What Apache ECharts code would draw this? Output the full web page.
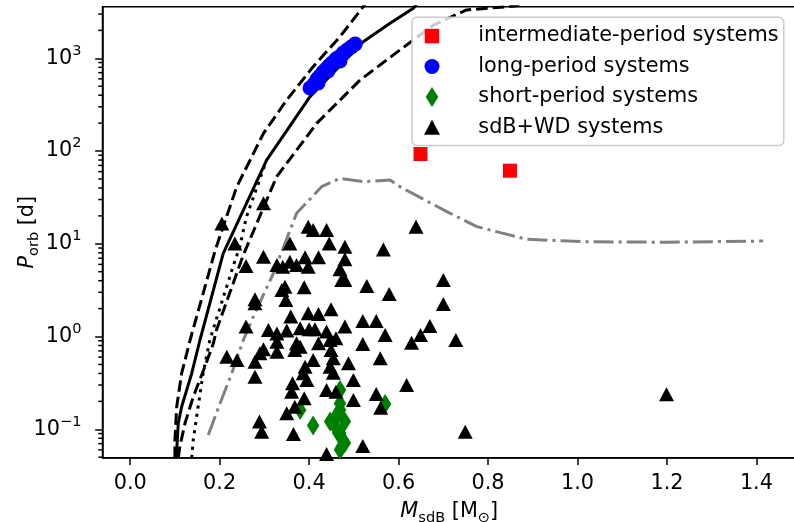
<!DOCTYPE html>
<html><head><meta charset="utf-8">
<script src="https://cdn.jsdelivr.net/npm/echarts@6/dist/echarts.min.js"></script>
<style>html,body{margin:0;padding:0;background:#fff}#c{width:794px;height:522px}</style>
</head><body><div id="c"></div>
<script>
// ---- axis ticks ----
const xTicks = [0.0, 0.2, 0.4, 0.6, 0.8, 1.0, 1.2, 1.4];
const yTicks = [0.1, 1, 10, 100, 1000];
const yMinorTicks = [0.05,0.06,0.07,0.08,0.09, 0.2,0.3,0.4,0.5,0.6,0.7,0.8,0.9,
  2,3,4,5,6,7,8,9, 20,30,40,50,60,70,80,90, 200,300,400,500,600,700,800,900, 2000,3000];

// ---- series data [M_sdB, P_orb] ----
const intermediatePeriod = [[0.649,92.9],[0.849,61.4]];
const longPeriod = [[0.402,479],[0.411,529],[0.418,598],[0.420,542],[0.424,644],[0.431,711],[0.438,767],[0.442,729],
  [0.444,826],[0.451,889],[0.460,983],[0.467,1033],[0.469,935],[0.476,1140],[0.485,1228],[0.494,1324],[0.503,1426]];
const shortPeriod = [[0.469,0.265],[0.380,0.161],[0.409,0.110],[0.570,0.187],[0.447,0.121],[0.469,0.161],[0.480,0.121],
  [0.465,0.091],[0.475,0.077],[0.473,0.065],[0.480,0.071],[0.454,0.116],[0.469,0.091],[0.462,0.143],[0.469,0.19],[0.469,0.060]];
const sdbWd = [[0.205,16.6],[0.234,10.1],[0.298,27.3],[0.259,5.76],[0.298,7.26],[0.398,15.3],[0.409,14.1],[0.439,14.1],
  [0.357,10.1],[0.445,10.1],[0.480,9.3],[0.566,8.7],[0.639,15.3],[0.328,5.9],[0.341,5.66],[0.357,6.41],[0.372,5.9],
  [0.391,7.15],[0.398,5.66],[0.421,7.15],[0.480,6.8],[0.469,5.31],[0.473,4.07],[0.480,4.07],[0.346,3.45],[0.339,3.17],
  [0.389,3.4],[0.348,2.48],[0.529,3.51],[0.579,2.88],[0.279,2.52],[0.279,2.28],[0.700,4.07],[0.700,2.24],[0.359,1.64],
  [0.398,1.78],[0.421,1.75],[0.449,1.97],[0.259,1.28],[0.309,1.18],[0.328,1.08],[0.350,1.16],[0.380,1.23],[0.400,1.20],
  [0.413,1.20],[0.439,1.13],[0.480,1.28],[0.520,1.47],[0.550,1.47],[0.570,1.04],[0.670,1.30],[0.649,1.04],[0.629,0.859],
  [0.328,0.88],[0.372,0.846],[0.380,0.777],[0.421,0.846],[0.447,0.918],[0.460,0.957],[0.520,0.831],[0.298,0.728],
  [0.290,0.659],[0.328,0.687],[0.368,0.716],[0.449,0.716],[0.216,0.607],[0.239,0.558],[0.279,0.535],[0.409,0.558],
  [0.454,0.582],[0.559,0.582],[0.488,0.514],[0.391,0.473],[0.447,0.473],[0.279,0.369],[0.387,0.402],[0.454,0.407],
  [0.395,0.34],[0.363,0.313],[0.499,0.34],[0.618,0.30],[0.361,0.254],[0.389,0.216],[0.439,0.265],[0.460,0.254],
  [0.499,0.207],[0.550,0.24],[0.350,0.149],[0.368,0.175],[0.560,0.171],[0.289,0.121],[0.294,0.094],[0.365,0.089],
  [0.520,0.066],[0.439,0.054],[0.728,0.918],[1.199,0.238],[0.749,0.094]];

// ---- model curves ----
const curveSolid = [[0.103,0.049],[0.1075,0.116],[0.115,0.175],[0.1375,0.40],[0.156,0.918],[0.208,7.9],[0.305,80],
  [0.402,386],[0.521,1510],[0.581,2385],[0.633,3460],[0.645,4100]];
const curveUpperDashed = [[0.100,0.049],[0.100,0.076],[0.104,0.175],[0.115,0.40],[0.134,0.918],[0.190,8.5],[0.238,41],
  [0.298,155],[0.350,355],[0.409,811],[0.469,1710],[0.521,3600],[0.53,4200]];
const curveDotted = [[0.1375,0.049],[0.141,0.077],[0.152,0.177],[0.163,0.40],[0.178,0.918],[0.230,5.7],[0.245,9.3],
  [0.260,19.6],[0.305,80]];
const curveLowerDashed = [[0.1075,0.049],[0.111,0.065],[0.1225,0.116],[0.141,0.224],[0.167,0.473],[0.186,0.845],
  [0.193,1.18],[0.253,7.6],[0.3275,53],[0.417,199],[0.514,583],[0.603,1228],[0.633,1574],[0.678,2284],[0.752,3320],
  [0.842,3600],[0.87,3700]];
const curveDashDot = [[0.1746,0.087],[0.2008,0.19],[0.227,0.40],[0.253,0.918],[0.272,1.51],[0.320,4.8],[0.372,21.3],
  [0.428,41.3],[0.469,50.8],[0.521,46.8],[0.581,48.7],[0.603,41.3],[0.708,22.2],[0.775,15.3],[0.886,11.2],[1.021,10.5],
  [1.199,10.4],[1.415,10.7]];

const X_MIN = -0.0619, X_MAX = 1.4885, Y_MIN = 0.0494, Y_MAX = 3600;
const F = 'DejaVu Sans', FS = 20.8, FSS = 14.6;

function supLabel(v){
  const e = Math.round(Math.log10(v));
  const s = e < 0 ? '\u2212' + (-e) : String(e);
  return '{b|10}{s|' + s + '}';
}
function lineSeries(data, color, type){
  return {type:'line', data:data, showSymbol:false, symbol:'none', clip:true, z:1,
    lineStyle:{color:color, width:3, type:type}, emphasis:{disabled:true}, silent:true};
}

const chart = echarts.init(document.getElementById('c'), null, {renderer:'canvas'});
chart.setOption({
  animation:false,
  backgroundColor:'#fff',
  textStyle:{fontFamily:F},
  grid:{left:102.5, top:6.7, right:-2, bottom:64.3, show:true, borderColor:'#000', borderWidth:1.5,
        backgroundColor:'transparent', containLabel:false, outerBoundsMode:'none'},
  legend:{z:10, orient:'vertical', left:412, top:17.3, padding:[8.3, 5.3, 7.7, 10],
    itemWidth:39.4, itemHeight:20, itemGap:9.4, symbolKeepAspect:true, selectedMode:false,
    backgroundColor:'rgba(255,255,255,0.8)', borderColor:'#cccccc', borderWidth:1.5, borderRadius:5,
    textStyle:{fontFamily:F, fontSize:FS, color:'#000', lineHeight:20, padding:[0,0,0,21.6]},
    data:[{name:'intermediate-period systems', icon:'path://M0,0M20,20M2.75,2.75L17.25,2.75L17.25,17.25L2.75,17.25Z'},
          {name:'long-period systems', icon:'path://M0,0M20,20M2.5,10A7.5,7.5,0,1,0,17.5,10A7.5,7.5,0,1,0,2.5,10Z'},
          {name:'short-period systems', icon:'path://M0,0M20,20M10,0L16.3,10L10,20L3.7,10Z'},
          {name:'sdB+WD systems', icon:'path://M0,0M20,20M10,2.5L18,17.5L2,17.5Z'}]},
  xAxis:{type:'value', min:X_MIN, max:X_MAX,
    name:'{i|M}{sub|sdB}{n| [M}{sub|\u2299}{n|]}', nameLocation:'middle', nameGap:40, nameMoveOverlap:false,
    nameTextStyle:{rich:{
      i:{fontFamily:F, fontStyle:'italic', fontSize:FS, lineHeight:28, color:'#000'},
      n:{fontFamily:F, fontSize:FS, lineHeight:28, color:'#000'},
      sub:{fontFamily:F, fontSize:FSS, lineHeight:FSS, verticalAlign:'bottom', color:'#000'}}},
    axisLine:{show:true, onZero:false, lineStyle:{color:'#000', width:1.5}},
    axisTick:{show:true, length:7.3, lineStyle:{color:'#000', width:1.5}, customValues:xTicks},
    axisLabel:{customValues:xTicks, formatter:v=>Number(v).toFixed(1), fontFamily:F, fontSize:FS, color:'#000', margin:15},
    splitLine:{show:false}},
  yAxis:{type:'log', logBase:10, min:Y_MIN, max:Y_MAX,
    name:'{i|P}{sub|orb}{n| [d]}', nameLocation:'middle', nameGap:61, nameRotate:90, nameMoveOverlap:false,
    nameTextStyle:{rich:{
      i:{fontFamily:F, fontStyle:'italic', fontSize:FS, lineHeight:28, color:'#000'},
      n:{fontFamily:F, fontSize:FS, lineHeight:28, color:'#000'},
      sub:{fontFamily:F, fontSize:FSS, lineHeight:FSS, verticalAlign:'bottom', color:'#000'}}},
    axisLine:{show:true, onZero:false, lineStyle:{color:'#000', width:1.5}},
    axisTick:{show:true, length:7.3, lineStyle:{color:'#000', width:1.5}, customValues:yTicks},
    axisLabel:{customValues:yTicks, formatter:supLabel, margin:21,
      rich:{b:{fontFamily:F, fontSize:FS, lineHeight:30, color:'#000'},
            s:{fontFamily:F, fontSize:FSS, lineHeight:FSS, verticalAlign:'top', color:'#000'}}},
    splitLine:{show:false}, minorTick:{show:false}},
  series:[
    lineSeries(curveSolid, '#000', 'solid'),
    lineSeries(curveUpperDashed, '#000', [11.6,5]),
    lineSeries(curveLowerDashed, '#000', [11.6,5]),
    lineSeries(curveDotted, '#000', [3.1,5.2]),
    lineSeries(curveDashDot, '#808080', [20,5,3.1,5]),
    {type:'custom', name:'minor', clip:false, silent:true, z:3,
      data: yMinorTicks.map(v=>[X_MIN, v]),
      renderItem:function(params, api){
        const p = api.coord([api.value(0), api.value(1)]);
        return {type:'line', shape:{x1:p[0]-4.2, y1:p[1], x2:p[0], y2:p[1]}, style:{stroke:'#000', lineWidth:1.5}};
      }},
    {type:'scatter', name:'intermediate-period systems', data:intermediatePeriod, symbol:'rect', symbolSize:14,
      itemStyle:{color:'#ff0000', opacity:1}, z:2},
    {type:'scatter', name:'long-period systems', data:longPeriod, symbol:'circle', symbolSize:15,
      itemStyle:{color:'#0000ff', opacity:1}, z:2},
    {type:'scatter', name:'short-period systems', data:shortPeriod, symbol:'diamond', symbolSize:[12.5,20],
      itemStyle:{color:'#008000', opacity:1}, z:2},
    {type:'scatter', name:'sdB+WD systems', data:sdbWd, symbol:'triangle', symbolSize:[15,14],
      itemStyle:{color:'#000000', opacity:1}, z:2}
  ]
});
</script></body></html>
